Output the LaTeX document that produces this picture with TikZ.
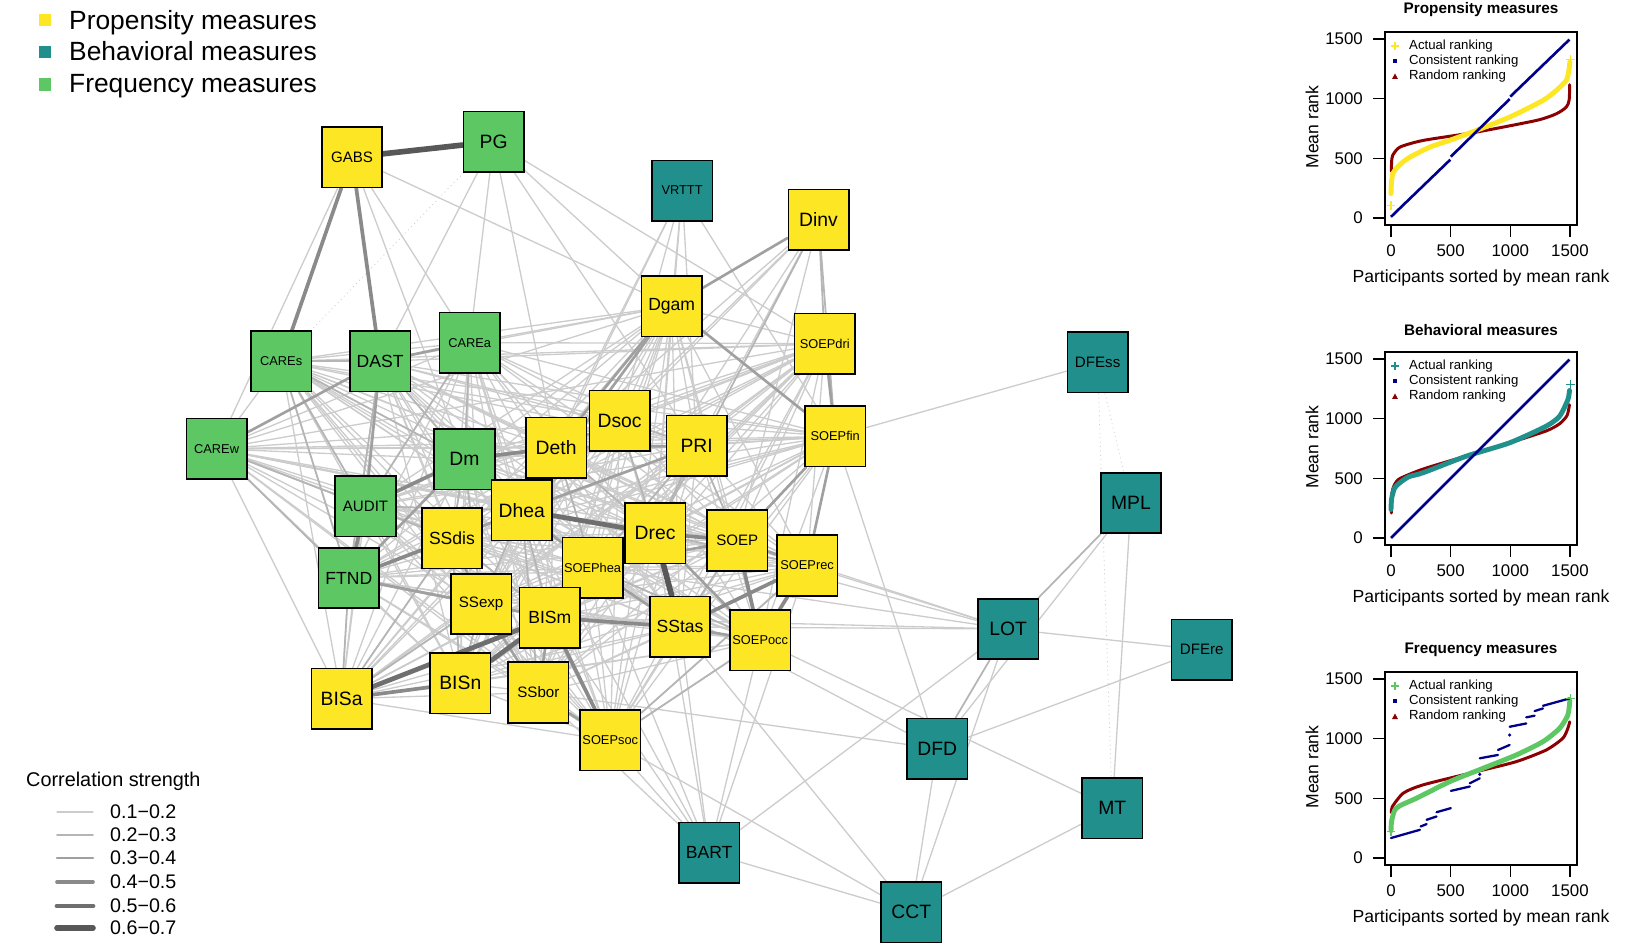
\documentclass[tikz,border=0pt]{standalone}
\usepackage{fontspec}
\setmainfont{Liberation Sans}
\usetikzlibrary{backgrounds}

\definecolor{propcol}{HTML}{FDE725}
\definecolor{behavcol}{HTML}{21908C}
\definecolor{freqcol}{HTML}{5DC863}
\definecolor{consistcol}{HTML}{00008B}
\definecolor{randcol}{HTML}{8B0000}
\definecolor{greyA}{HTML}{CCCCCC}
\definecolor{greyB}{HTML}{B5B5B5}
\definecolor{greyC}{HTML}{A0A0A0}
\definecolor{greyD}{HTML}{8A8A8A}
\definecolor{greyE}{HTML}{6F6F6F}
\definecolor{greyF}{HTML}{585858}

\tikzset{
	measure/.style={draw=black, line width=0.9pt, minimum size=1.21cm, inner sep=0pt},
	prop/.style={measure, fill=propcol},
	behav/.style={measure, fill=behavcol},
	freq/.style={measure, fill=freqcol},
	lbig/.style={font=\fontsize{11}{13}\selectfont},
	lmid/.style={font=\fontsize{10}{12}\selectfont},
	lsmall/.style={font=\fontsize{8.6}{10}\selectfont},
	ltiny/.style={font=\fontsize{7.3}{9}\selectfont},
	c12/.style={draw=greyA, line width=0.75pt, line cap=round},
	c23/.style={draw=greyB, line width=1.0pt, line cap=round},
	c34/.style={draw=greyC, line width=1.5pt, line cap=round},
	c45/.style={draw=greyD, line width=2.1pt, line cap=round},
	c56/.style={draw=greyE, line width=2.7pt, line cap=round},
	c67/.style={draw=greyF, line width=3.2pt, line cap=round},
	negcor/.style={draw=greyA, line width=0.5pt, dotted},
	kindlab/.style={anchor=base west, font=\fontsize{15}{17}\selectfont},
	ticklab/.style={font=\fontsize{9.6}{11}\selectfont},
	panellab/.style={font=\fontsize{10}{12}\selectfont},
	keylab/.style={font=\fontsize{7.5}{9}\selectfont, anchor=west}
}

\newcommand{\rankpanel}[6]{%
	\begin{scope}[shift={(0,#1)}]
		\draw[line width=0.7pt] (1385,32) rectangle (1577,225);
		\node[font=\bfseries\fontsize{8.7}{10}\selectfont] at (1481,10) {#2};
		\foreach \v in {0,500,1000,1500} {
			\draw[line width=0.7pt] (1373,{218-0.11933*\v}) -- (1385,{218-0.11933*\v});
			\node[ticklab, anchor=east] at (1369,{218-0.11933*\v}) {\v};
			\draw[line width=0.7pt] ({1391+0.11933*\v},225) -- ({1391+0.11933*\v},237);
			\node[ticklab] at ({1391+0.11933*\v},251) {\v};
		}
		\node[panellab, rotate=90] at (1312,127) {Mean rank};
		\node[panellab] at (1481,278) {Participants sorted by mean rank};
		\begin{scope}[shift={(1391,218)}, x=0.0023867cm, y=0.0023867cm]
			\draw[randcol, line width=1.7pt, line cap=round] plot[smooth, tension=0.4] coordinates {#5};
			\draw[#3, line width=2.8pt, line cap=round] plot[smooth, tension=0.4] coordinates {#4};
			#6
		\end{scope}
		% key
		\draw[#3, line width=0.6pt] (1391,46) -- (1399,46) (1395,42) -- (1395,50);
		\fill[consistcol] (1393,59) rectangle (1397,63);
		\fill[randcol] (1392,79) -- (1398,79) -- (1395,73.5) -- cycle;
		\node[keylab] at (1403,46) {Actual ranking};
		\node[keylab] at (1403,61) {Consistent ranking};
		\node[keylab] at (1403,76) {Random ranking};
	\end{scope}
}

\begin{document}
\begin{tikzpicture}[x=0.02cm, y=-0.02cm]
	\useasboundingbox (0,0) rectangle (1633,952);

	% kinds of measures
	\fill[propcol] (38.6,14) rectangle (50.9,26.3);
	\fill[behavcol] (38.6,46) rectangle (50.9,58.3);
	\fill[freqcol] (38.6,78.4) rectangle (50.9,90.7);
	\node[kindlab] at (63,29.3) {Propensity measures};
	\node[kindlab] at (63,61) {Behavioral measures};
	\node[kindlab] at (63,92.7) {Frequency measures};

	% network
	\begin{scope}[scale=1.0414]
		\node[prop, lsmall] (GABS) at (338,151) {GABS};
		\node[freq, lbig] (PG) at (474,136) {PG};
		\node[behav, ltiny] (VRTTT) at (655,183) {VRTTT};
		\node[prop, lbig] (Dinv) at (786,211) {Dinv};
		\node[prop, lmid] (Dgam) at (645,294) {Dgam};
		\node[prop, ltiny] (SOEPdri) at (792,330) {SOEPdri};
		\node[freq, ltiny] (CAREa) at (451,329) {CAREa};
		\node[freq, ltiny] (CAREs) at (270,347) {CAREs};
		\node[freq, lmid] (DAST) at (365,347) {DAST};
		\node[freq, ltiny] (CAREw) at (208,431) {CAREw};
		\node[behav, lsmall] (DFEss) at (1054,348) {DFEss};
		\node[prop, lbig] (Dsoc) at (595,404) {Dsoc};
		\node[prop, lbig] (Deth) at (534,430) {Deth};
		\node[prop, lbig] (PRI) at (669,428) {PRI};
		\node[prop, ltiny] (SOEPfin) at (802,419) {SOEPfin};
		\node[freq, lbig] (Dm) at (446,441) {Dm};
		\node[freq, lsmall] (AUDIT) at (351,486) {AUDIT};
		\node[prop, lbig] (Dhea) at (501,490) {Dhea};
		\node[behav, lbig] (MPL) at (1086,483) {MPL};
		\node[prop, lmid] (SSdis) at (434,517) {SSdis};
		\node[prop, lbig] (Drec) at (629,512) {Drec};
		\node[prop, lsmall] (SOEP) at (708,519) {SOEP};
		\node[prop, ltiny] (SOEPhea) at (569,545) {SOEPhea};
		\node[prop, ltiny] (SOEPrec) at (775,543) {SOEPrec};
		\node[freq, lmid] (FTND) at (335,555) {FTND};
		\node[prop, lsmall] (SSexp) at (462,580) {SSexp};
		\node[prop, lmid] (BISm) at (528,593) {BISm};
		\node[prop, lmid] (SStas) at (653,602) {SStas};
		\node[prop, ltiny] (SOEPocc) at (730,615) {SOEPocc};
		\node[behav, lbig] (LOT) at (968,604) {LOT};
		\node[behav, lsmall] (DFEre) at (1154,624) {DFEre};
		\node[prop, lbig] (BISa) at (328,671) {BISa};
		\node[prop, lbig] (BISn) at (442,656) {BISn};
		\node[prop, lsmall] (SSbor) at (517,665) {SSbor};
		\node[prop, ltiny] (SOEPsoc) at (586,711) {SOEPsoc};
		\node[behav, lbig] (DFD) at (900,719) {DFD};
		\node[behav, lbig] (MT) at (1068,776) {MT};
		\node[behav, lmid] (BART) at (681,819) {BART};
		\node[behav, lbig] (CCT) at (875,876) {CCT};
	\end{scope}

	\begin{pgfonlayer}{background}
		% weak links in the dense core
		\def\corelist{CAREa,CAREs,DAST,CAREw,Dm,AUDIT,FTND,Deth,Dsoc,PRI,Dhea,SSdis,Drec,SOEP,SOEPhea,SOEPrec,SSexp,BISm,SStas,SOEPocc,BISa,BISn,SSbor,SOEPsoc,Dgam,SOEPdri,SOEPfin}
		\foreach \a [count=\i] in \corelist {
			\foreach \b [count=\j] in \corelist {
				\ifnum\j>\i \draw[c12] (\a) -- (\b); \fi
			}
		}
		% weak links of the outer measures
		\foreach \a/\b in {GABS/CAREw, GABS/CAREa, GABS/Dgam, GABS/Dm, PG/CAREa, PG/DAST, PG/PRI, PG/SOEPdri,
			PG/Dgam, PG/Deth, VRTTT/Dgam, VRTTT/Deth, VRTTT/Dsoc, VRTTT/PRI, VRTTT/Dhea, VRTTT/SOEPfin,
			VRTTT/Drec, Dinv/Deth, Dinv/Dsoc, Dinv/PRI, Dinv/Dhea, Dinv/SOEP, Dinv/SOEPhea,
			DFEss/SOEPfin, MPL/DFD, MPL/MT, LOT/DFEre, LOT/CCT, LOT/Drec, LOT/SOEP, LOT/SStas, LOT/BISm,
			LOT/SOEPrec, LOT/SOEPhea, LOT/BART, DFD/DFEre, DFD/CCT, DFD/SOEPfin, DFD/SSbor, DFD/SOEPhea,
			MT/CCT, MT/SOEPocc, CCT/BART, CCT/SStas, CCT/SOEPsoc, BART/SOEPsoc, BART/SStas, BART/BISm,
			BART/SSbor, BART/SOEPocc, BART/Drec, BART/SOEPhea, BART/Dhea, BART/SOEPrec}
			\draw[c12] (\a) -- (\b);
		\foreach \a/\b in {PG/CAREs, DFEss/MPL, DFEss/MT}
			\draw[negcor] (\a) -- (\b);
		% stronger links
		\foreach \a/\b in {CAREs/DAST, Dinv/SOEPdri, Dinv/SOEPfin, Dinv/Drec, Dsoc/PRI, CAREw/AUDIT, FTND/CAREw,
			SOEPsoc/SOEPrec, MPL/LOT, LOT/DFD, PRI/Drec, Deth/Drec, Dm/SSdis, SSdis/BISa, SOEPhea/SOEPocc,
			DAST/Dm, CAREa/Dm, CAREs/Dm, CAREs/AUDIT, CAREs/FTND, DAST/FTND, CAREa/AUDIT, Dm/SSexp,
			AUDIT/SSdis, AUDIT/Dhea, FTND/BISa, BISa/SSexp, BISn/SSexp, SSexp/Dhea, Dhea/BISm, Dhea/SSbor,
			SSdis/BISm, SSdis/BISn, Drec/BISm, Deth/SOEPhea, Dsoc/Drec, Dsoc/Dhea, PRI/SOEP, PRI/SOEPhea,
			Drec/SOEPrec, SOEP/SStas, SOEPhea/BISm, SOEPocc/SOEPsoc}
			\draw[c23] (\a) -- (\b);
		\foreach \a/\b in {DAST/CAREw, DAST/CAREa, Dinv/Dgam, SOEPdri/SOEPfin, Dgam/SOEPfin, Dgam/Dhea,
			Dgam/Deth, Dm/Dhea, Dm/FTND, AUDIT/DAST, Deth/Dhea, Deth/Dsoc, Deth/PRI, Dhea/SOEPhea,
			SOEP/SOEPrec, SOEPfin/SOEPrec, SOEPfin/SOEP, SSexp/SSdis, SSexp/BISm, SSdis/Dhea, SSbor/BISm,
			SSbor/SOEPsoc, SOEPhea/SOEP, SOEPhea/Drec, PRI/Dhea, FTND/SSexp, FTND/BISm, SSexp/SSbor,
			SStas/SOEPocc, SStas/SOEPhea, Drec/SOEPocc}
			\draw[c34] (\a) -- (\b);
		\foreach \a/\b in {GABS/DAST, GABS/CAREs, Dm/Deth, Dm/AUDIT, AUDIT/FTND, Drec/SOEP, SOEP/SOEPocc,
			SOEPrec/SOEPocc, SStas/SOEPrec, BISm/SStas, BISa/BISn, BISm/SOEPsoc, FTND/SSdis}
			\draw[c45] (\a) -- (\b);
		\foreach \a/\b in {Dhea/Drec, BISm/BISn, BISa/BISm}
			\draw[c56] (\a) -- (\b);
		\foreach \a/\b in {GABS/PG, Drec/SStas}
			\draw[c67] (\a) -- (\b);
	\end{pgfonlayer}

	% correlation key
	\node[anchor=west, font=\fontsize{11.3}{13}\selectfont] at (20,781.7) {Correlation strength};
	\foreach \s/\t/\y in {c12/0.1−0.2/812, c23/0.2−0.3/835, c34/0.3−0.4/858, c45/0.4−0.5/882, c56/0.5−0.6/906, c67/0.6−0.7/928} {
		\coordinate (k\s) at (57,\y);
		\draw[\s] (k\s) -- ++(36,0);
		\node[anchor=west, font=\fontsize{11.2}{13}\selectfont] at (104,\y) {\t};
	}

	% ranking panels
	\rankpanel{0}{Propensity measures}{propcol}
		{(0,205) (4,300) (15,372) (47,420) (100,470) (160,512) (327,596) (500,655) (718,736) (997,848) (1277,988) (1389,1072) (1473,1156) (1495,1240) (1503,1310)}
		{(3,390) (5,470) (14,526) (75,596) (271,652) (718,722) (1222,820) (1390,876) (1473,932) (1497,990) (1502,1120)}
		{\draw[consistcol, line width=1.5pt] (0,10) -- (498,490) (502,515) -- (998,1000) (1002,1020) -- (1500,1500);
		 \draw[propcol, line width=0.6pt] (0,106) ++(-2.5pt,0) -- ++(5pt,0) (0,106) ++(0,-2.5pt) -- ++(0,5pt);
		 \draw[propcol, line width=0.6pt] (1507,1330) ++(-2.5pt,0) -- ++(5pt,0) (1507,1330) ++(0,-2.5pt) -- ++(0,5pt);}
	\rankpanel{320}{Behavioral measures}{behavcol}
		{(0,240) (5,330) (30,420) (75,465) (150,515) (271,549) (634,688) (997,800) (1305,940) (1417,1024) (1487,1164) (1500,1240)}
		{(3,210) (8,380) (30,450) (75,500) (271,580) (634,690) (997,800) (1305,900) (1417,960) (1480,1030) (1500,1120)}
		{\draw[consistcol, line width=1.5pt] (0,0) -- (1500,1500);
		 \draw[behavcol, line width=0.6pt] (1507,1290) ++(-2.5pt,0) -- ++(5pt,0) (1507,1290) ++(0,-2.5pt) -- ++(0,5pt);}
	\rankpanel{640}{Frequency measures}{freqcol}
		{(0,230) (5,310) (30,400) (75,440) (215,503) (494,642) (774,754) (1053,866) (1277,978) (1416,1089) (1486,1201) (1503,1320)}
		{(3,380) (10,430) (103,545) (271,615) (718,726) (1053,810) (1305,908) (1444,1006) (1486,1089) (1502,1145)}
		{\draw[consistcol, line width=1.3pt, line cap=round] (0,168) -- (243,237) (249,265) -- (299,285) (299,321) -- (383,349)
			(383,385) -- (503,419) (503,564) -- (662,601) (662,628) -- (746,670) (746,838) -- (899,866)
			(899,908) -- (997,950) (997,1103) -- (1137,1131) (1137,1182) -- (1207,1196) (1207,1235) -- (1277,1257)
			(1277,1279) -- (1500,1341);
		 \fill[consistcol] (997,1033) circle (1pt) (746,703) circle (1pt);
		 \draw[freqcol, line width=0.6pt] (1507,1341) ++(-2.5pt,0) -- ++(5pt,0) (1507,1341) ++(0,-2.5pt) -- ++(0,5pt);
		 \draw[freqcol, line width=0.6pt] (0,220) ++(-2.5pt,0) -- ++(5pt,0) (0,220) ++(0,-2.5pt) -- ++(0,5pt);}
\end{tikzpicture}
\end{document}
